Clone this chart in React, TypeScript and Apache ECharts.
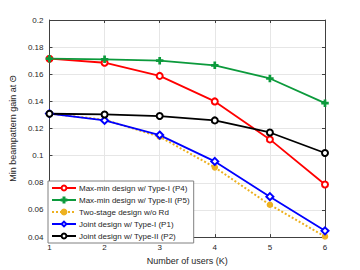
import React, { useEffect, useRef } from "react";
import * as echarts from "echarts";

const users = [1, 2, 3, 4, 5, 6];
const maxMinTypeI = [0.1715, 0.1685, 0.1588, 0.14, 0.112, 0.0788];
const maxMinTypeII = [0.1715, 0.171, 0.17, 0.1666, 0.1569, 0.1387];
const twoStage = [0.131, 0.1265, 0.114, 0.0914, 0.0638, 0.0405];
const jointTypeI = [0.131, 0.126, 0.1152, 0.0958, 0.0698, 0.0446];
const jointTypeII = [0.1309, 0.1304, 0.1292, 0.126, 0.1171, 0.102];

const seriesNames = [
  "Max-min design w/ Type-I (P4)",
  "Max-min design w/ Type-II (P5)",
  "Two-stage design w/o Rd",
  "Joint design w/ Type-I (P1)",
  "Joint design w/ Type-II (P2)",
];

const plusPath = "path://M4,0h2v4h4v2h-4v4h-2v-4h-4v-2h4z";

export default function App() {
  const ref = useRef<HTMLDivElement>(null);
  useEffect(() => {
    document.body.style.margin = "0";
    if (!ref.current) return;
    const chart = echarts.init(ref.current, null, { renderer: "svg" });
    const font = "Liberation Sans, Arial, sans-serif";
    const mk = (
      name: string,
      data: number[],
      color: string,
      symbol: string,
      symbolSize: number,
      dashed = false
    ) => ({
      name,
      type: "line",
      data: users.map((u, i) => [u, data[i]]),
      symbol,
      symbolSize,
      showSymbol: true,
      lineStyle: { color, width: dashed ? 2 : 1.8, type: dashed ? [2, 2] : "solid" },
      itemStyle: { color, borderColor: color, borderWidth: 1.5 },
      emphasis: { disabled: true },
    });
    chart.setOption({
      animation: false,
      textStyle: { fontFamily: font },
      grid: { left: 46, top: 20, right: 35, bottom: 30 },
      xAxis: [
        {
          type: "value",
          min: 1,
          max: 6,
          interval: 1,
          name: "Number of users (K)",
          nameLocation: "middle",
          nameGap: 17,
          nameTextStyle: { fontSize: 9, color: "#262626", fontFamily: font },
          axisLine: { show: true, lineStyle: { color: "#404040", width: 1 } },
          axisTick: { show: true, inside: true, length: 3, lineStyle: { color: "#404040" } },
          axisLabel: { fontSize: 8, color: "#262626", margin: 6, fontFamily: font },
          splitLine: { show: true, lineStyle: { color: "#e6e6e6", width: 1 } },
        },
        {
          type: "value",
          position: "top",
          min: 1,
          max: 6,
          interval: 1,
          axisLine: { show: true, lineStyle: { color: "#404040", width: 1 } },
          axisTick: { show: true, inside: true, length: 3, lineStyle: { color: "#404040" } },
          axisLabel: { show: false },
          splitLine: { show: false },
        },
      ],
      yAxis: [
        {
          type: "value",
          min: 0.04,
          max: 0.2,
          interval: 0.02,
          name: "Min beampattern gain at Θ",
          nameLocation: "middle",
          nameGap: 30,
          nameTextStyle: { fontSize: 9, color: "#262626", fontFamily: font },
          axisLine: { show: true, lineStyle: { color: "#404040", width: 1 } },
          axisTick: { show: true, inside: true, length: 3, lineStyle: { color: "#404040" } },
          axisLabel: {
            fontSize: 8,
            color: "#262626",
            margin: 6,
            fontFamily: font,
            formatter: (v: number) => String(+v.toFixed(2)),
          },
          splitLine: { show: true, lineStyle: { color: "#e6e6e6", width: 1 } },
        },
        {
          type: "value",
          position: "right",
          min: 0.04,
          max: 0.2,
          interval: 0.02,
          axisLine: { show: true, lineStyle: { color: "#404040", width: 1 } },
          axisTick: { show: true, inside: true, length: 3, lineStyle: { color: "#404040" } },
          axisLabel: { show: false },
          splitLine: { show: false },
        },
      ],
      legend: {
        show: true,
        orient: "vertical",
        left: 48,
        top: 181,
        itemWidth: 24,
        itemHeight: 6,
        itemGap: 4,
        padding: [3, 4, 3, 3],
        backgroundColor: "#ffffff",
        borderColor: "#808080",
        borderWidth: 1,
        borderRadius: 0,
        textStyle: { fontSize: 8, color: "#262626", fontFamily: font, padding: [0, 0, 0, -2] },
        data: seriesNames,
      },
      series: [
        mk(seriesNames[0], maxMinTypeI, "#ff0000", "emptyCircle", 6),
        mk(seriesNames[1], maxMinTypeII, "#0c9a3c", plusPath, 6),
        mk(seriesNames[2], twoStage, "#edb120", "circle", 5, true),
        mk(seriesNames[3], jointTypeI, "#0000ff", "emptyDiamond", 7),
        mk(seriesNames[4], jointTypeII, "#000000", "emptyCircle", 6),
      ],
    });
    return () => chart.dispose();
  }, []);
  return <div ref={ref} style={{ width: 360, height: 270 }} />;
}
